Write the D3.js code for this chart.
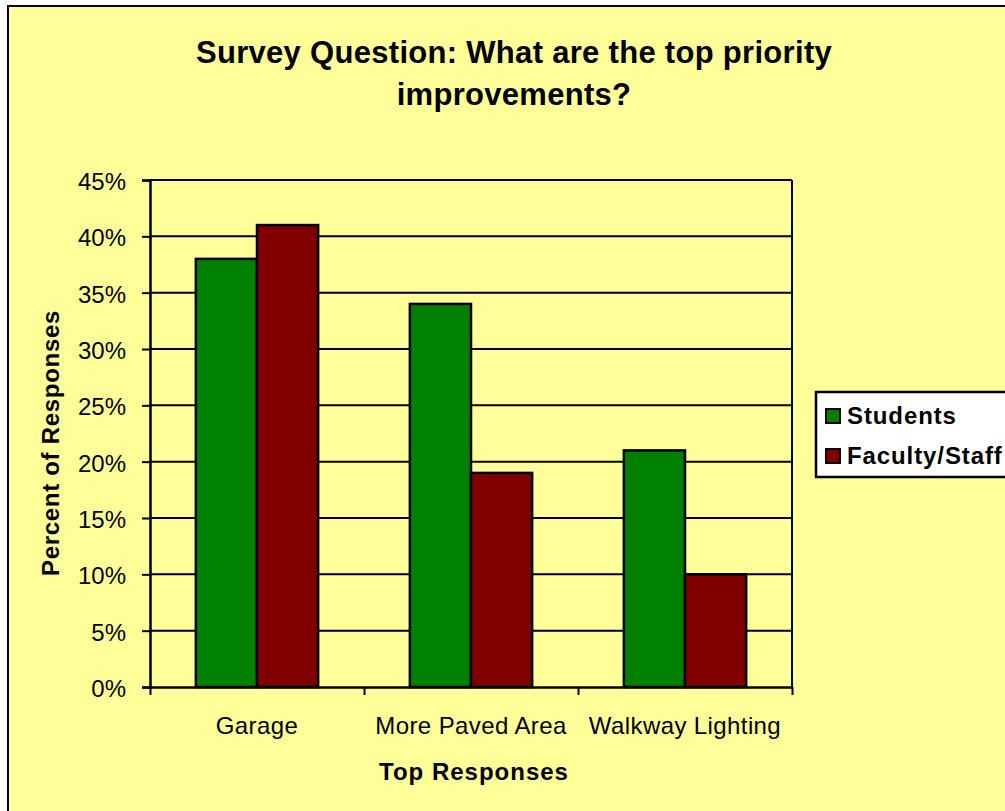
<!DOCTYPE html>
<html>
<head>
<meta charset="utf-8">
<script src="https://cdn.jsdelivr.net/npm/d3@7"></script>
<style>
  html, body { margin: 0; padding: 0; background: #ffffff; }
  svg { display: block; font-family: "Liberation Sans", Arial, sans-serif; }
</style>
</head>
<body>
<svg id="chart" width="1005" height="811"></svg>
<script>
// ---- data ----
const categories = ["Garage", "More Paved Area", "Walkway Lighting"];
const seriesNames = ["Students", "Faculty/Staff"];
const students = [0.38, 0.34, 0.21];
const facultyStaff = [0.41, 0.19, 0.10];
const yTicks = [0, 0.05, 0.10, 0.15, 0.20, 0.25, 0.30, 0.35, 0.40, 0.45];
const titleLines = ["Survey Question: What are the top priority", "improvements?"];
const colors = ["#008000", "#800000"];

(function () {
const svg = d3.select("#chart");

// chart area background + border
svg.append("rect").attr("x", 8).attr("y", 6).attr("width", 1100).attr("height", 900)
  .attr("fill", "#FFFF99").attr("stroke", "#000").attr("stroke-width", 2);

const pL = 150, pR = 792, pT = 180, pB = 687;

const x0 = d3.scaleBand().domain(categories).range([pL, pR]).paddingInner(0).paddingOuter(0);
const x1 = d3.scaleBand().domain(seriesNames).range([0, x0.bandwidth()]).paddingInner(0).paddingOuter(0.75);
const y = d3.scaleLinear().domain([0, 0.45]).range([pB, pT]);

// gridlines
svg.append("g").selectAll("line").data(yTicks.filter(d => d > 0)).join("line")
  .attr("x1", pL).attr("x2", pR)
  .attr("y1", d => y(d)).attr("y2", d => y(d))
  .attr("stroke", "#000").attr("stroke-width", 2);

// right border of plot area
svg.append("line").attr("x1", pR).attr("x2", pR).attr("y1", pT).attr("y2", pB)
  .attr("stroke", "#000").attr("stroke-width", 2);

// bars
const rows = categories.map((c, i) => ({ cat: c, vals: [students[i], facultyStaff[i]] }));
const g = svg.append("g").selectAll("g").data(rows).join("g")
  .attr("transform", d => `translate(${x0(d.cat)},0)`);
g.selectAll("rect").data(d => d.vals.map((v, j) => ({ s: seriesNames[j], v, j }))).join("rect")
  .attr("x", d => x1(d.s)).attr("width", x1.bandwidth())
  .attr("y", d => y(d.v)).attr("height", d => y(0) - y(d.v))
  .attr("fill", d => colors[d.j]).attr("stroke", "#000").attr("stroke-width", 2.5);

// y axis
const yAxis = svg.append("g").attr("transform", `translate(${pL},0)`)
  .call(d3.axisLeft(y).tickValues(yTicks).tickFormat(d3.format(".0%")).tickSize(8).tickPadding(16));
yAxis.select(".domain").attr("stroke", "#000").attr("stroke-width", 2.5);
yAxis.selectAll(".tick line").attr("stroke", "#000").attr("stroke-width", 2);
yAxis.selectAll(".tick text").attr("font-size", 24).attr("fill", "#000")
  .attr("font-family", "'Liberation Sans', Arial, sans-serif").attr("dy", "0.4em");

// x axis
const xEdge = d3.scaleLinear().domain([0, categories.length]).range([pL, pR]);
const xAxis = svg.append("g").attr("transform", `translate(0,${pB})`)
  .call(d3.axisBottom(xEdge).tickValues(d3.range(categories.length + 1)).tickFormat("").tickSize(8).tickSizeOuter(0));
xAxis.select(".domain").attr("stroke", "#000").attr("stroke-width", 2.5);
xAxis.selectAll(".tick line").attr("stroke", "#000").attr("stroke-width", 2);

svg.append("g").selectAll("text").data(categories).join("text")
  .attr("x", d => x0(d) + x0.bandwidth() / 2).attr("y", 734)
  .attr("text-anchor", "middle").attr("font-size", 24).attr("letter-spacing", "0.4px")
  .attr("fill", "#000").text(d => d);

// title
svg.append("g").selectAll("text").data(titleLines).join("text")
  .attr("x", 514).attr("y", (d, i) => 63 + i * 42)
  .attr("text-anchor", "middle").attr("font-size", 31).attr("font-weight", "bold")
  .attr("letter-spacing", "0.3px").attr("fill", "#000").text(d => d);

// axis titles
svg.append("text").attr("x", 474).attr("y", 780).attr("text-anchor", "middle")
  .attr("font-size", 24).attr("font-weight", "bold").attr("letter-spacing", "1px")
  .attr("fill", "#000").text("Top Responses");
svg.append("text").attr("transform", "translate(59,443) rotate(-90)").attr("text-anchor", "middle")
  .attr("font-size", 24).attr("font-weight", "bold").attr("letter-spacing", "0.7px")
  .attr("fill", "#000").text("Percent of Responses");

// legend
const lg = svg.append("g");
lg.append("rect").attr("x", 816).attr("y", 392).attr("width", 250).attr("height", 85)
  .attr("fill", "#fff").attr("stroke", "#000").attr("stroke-width", 2.5);
const items = lg.selectAll("g").data(seriesNames).join("g")
  .attr("transform", (d, i) => `translate(826,${409 + i * 40})`);
items.append("rect").attr("width", 14).attr("height", 14)
  .attr("fill", (d, i) => colors[i]).attr("stroke", "#000").attr("stroke-width", 2);
items.append("text").attr("x", 21).attr("y", 14.5).attr("font-size", 24).attr("font-weight", "bold")
  .attr("letter-spacing", "0.9px").attr("fill", "#000").text(d => d);
})();
</script>
</body>
</html>
